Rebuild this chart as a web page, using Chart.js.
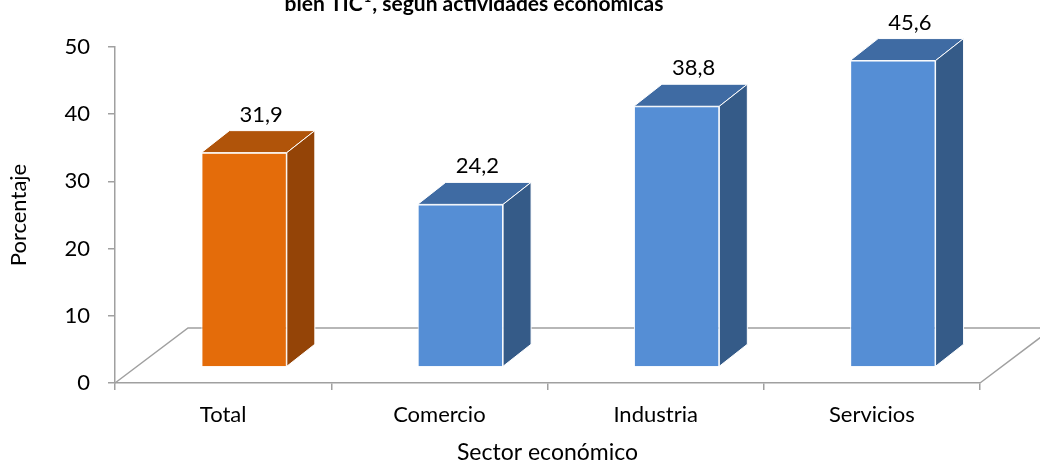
<!DOCTYPE html>
<html>
<head>
<meta charset="utf-8">
<script src="https://cdn.jsdelivr.net/npm/chart.js@4/dist/chart.umd.min.js"></script>
<style>
  html, body { margin: 0; padding: 0; background: #fff; }
  #wrap { width: 1040px; height: 464px; }
</style>
</head>
<body>
<div id="wrap"><canvas id="chart" width="1040" height="464"></canvas></div>
<script>
const sectores = ["Total", "Comercio", "Industria", "Servicios"];
const porcentajes = [31.9, 24.2, 38.8, 45.6];
const yTicks = [0, 10, 20, 30, 40, 50];

const frontColors = ["#E46C0A", "#558ED5", "#558ED5", "#558ED5"];
const topColors = ["#B0540A", "#3F6BA3", "#3F6BA3", "#3F6BA3"];
const sideColors = ["#944407", "#355B88", "#355B88", "#355B88"];

const FONT = "Lato, 'Open Sans', sans-serif";
const LINE = "#A0A0A0";

// floor depth and bar position inside it
const floorDX = 73, floorDY = -55;
const shiftX = 21, shiftY = -16;
const barDX = 28, barDY = -22;

const fmt = v => v.toFixed(1).replace(".", ",");

const bars3d = {
  id: "bars3d",
  beforeDatasetsDraw(chart) {
    const ctx = chart.ctx;
    const xs = chart.scales.x, ys = chart.scales.y;
    const y0 = ys.getPixelForValue(0);
    const l = xs.left, r = xs.right;
    ctx.save();
    ctx.strokeStyle = LINE;
    ctx.lineWidth = 1.5;
    ctx.beginPath();
    ctx.moveTo(l, y0);
    ctx.lineTo(l + floorDX, y0 + floorDY);
    ctx.lineTo(chart.width, y0 + floorDY);
    ctx.moveTo(r, y0);
    ctx.lineTo(r + floorDX, y0 + floorDY);
    ctx.stroke();
    ctx.restore();
    ctx.save();
    ctx.translate(shiftX, shiftY);
  },
  afterDatasetsDraw(chart) {
    const ctx = chart.ctx;
    const meta = chart.getDatasetMeta(0);
    meta.data.forEach((el, i) => {
      const { x, y, base, width } = el.getProps(["x", "y", "base", "width"], true);
      const xl = x - width / 2, xr = x + width / 2;
      ctx.lineWidth = 1;
      ctx.strokeStyle = "#ffffff";
      ctx.lineJoin = "round";
      // top face
      ctx.beginPath();
      ctx.moveTo(xl, y);
      ctx.lineTo(xl + barDX, y + barDY);
      ctx.lineTo(xr + barDX, y + barDY);
      ctx.lineTo(xr, y);
      ctx.closePath();
      ctx.fillStyle = topColors[i];
      ctx.fill();
      ctx.stroke();
      // side face
      ctx.beginPath();
      ctx.moveTo(xr, y);
      ctx.lineTo(xr + barDX, y + barDY);
      ctx.lineTo(xr + barDX, base + barDY);
      ctx.lineTo(xr, base);
      ctx.closePath();
      ctx.fillStyle = sideColors[i];
      ctx.fill();
      ctx.stroke();
    });
    ctx.restore();

    // value labels
    ctx.save();
    ctx.font = "22px " + FONT;
    ctx.fillStyle = "#000";
    ctx.textAlign = "center";
    ctx.textBaseline = "alphabetic";
    meta.data.forEach((el, i) => {
      ctx.fillText(fmt(porcentajes[i]), el.x + shiftX + barDX / 2 + 3, el.y + shiftY + barDY - 9);
    });
    ctx.restore();
  },
  afterDraw(chart) {
    // title (top part is cut off in the original)
    const ctx = chart.ctx;
    ctx.save();
    ctx.fillStyle = "#000";
    ctx.textBaseline = "alphabetic";
    const a = "bien TIC", sup = "1", b = ", según actividades económicas";
    ctx.font = "bold 21px " + FONT;
    const wa = ctx.measureText(a).width, wb = ctx.measureText(b).width;
    ctx.font = "bold 13px " + FONT;
    const ws = ctx.measureText(sup).width;
    let x = 473 - (wa + ws + wb) / 2;
    const y = 11;
    ctx.font = "bold 21px " + FONT;
    ctx.fillText(a, x, y);
    x += wa;
    ctx.font = "bold 13px " + FONT;
    ctx.fillText(sup, x + 1, y - 9);
    x += ws + 2;
    ctx.font = "bold 21px " + FONT;
    ctx.fillText(b, x, y);
    ctx.restore();
  }
};

new Chart(document.getElementById("chart"), {
  type: "bar",
  data: {
    labels: sectores,
    datasets: [{
      data: porcentajes,
      backgroundColor: frontColors,
      borderColor: "#ffffff",
      borderWidth: 1,
      categoryPercentage: 1,
      barPercentage: 0.395
    }]
  },
  options: {
    responsive: false,
    animation: false,
    layout: { padding: { top: 47, right: 60, left: 0, bottom: 0 } },
    plugins: {
      legend: { display: false },
      tooltip: { enabled: false },
      title: { display: false }
    },
    scales: {
      x: {
        afterFit: s => { s.height = 81; },
        border: { color: LINE, width: 1.5 },
        grid: { drawOnChartArea: false, color: LINE, lineWidth: 1.5, tickLength: 7, offset: true },
        ticks: { color: "#000", font: { family: FONT, size: 22 }, padding: 12 },
        title: {
          display: true, text: "Sector económico", color: "#000",
          font: { family: FONT, size: 23, lineHeight: 1.0 }, padding: { top: 0, bottom: 0 }
        }
      },
      y: {
        min: 0, max: 50,
        afterFit: s => { s.width = 115; },
        afterBuildTicks: s => { s.ticks = yTicks.map(v => ({ value: v })); },
        border: { color: LINE, width: 1.5 },
        grid: { drawOnChartArea: false, color: LINE, lineWidth: 1.5, tickLength: 7 },
        ticks: { color: "#000", font: { family: FONT, size: 22 }, padding: 18 },
        title: {
          display: true, text: "Porcentaje", color: "#000",
          font: { family: FONT, size: 22 }, padding: { top: 6, bottom: 0 }
        }
      }
    }
  },
  plugins: [bars3d]
});
</script>
</body>
</html>
